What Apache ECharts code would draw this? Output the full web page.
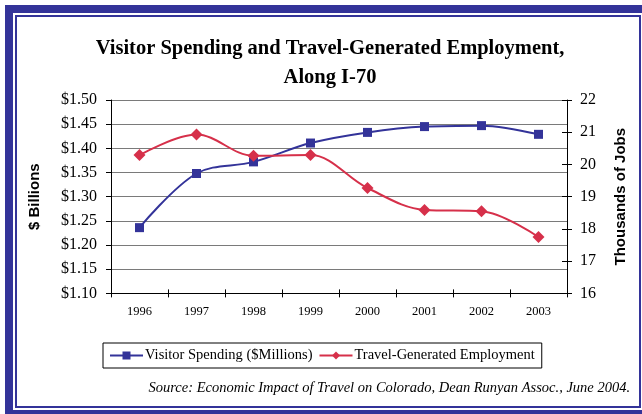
<!DOCTYPE html>
<html>
<head>
<meta charset="utf-8">
<script src="https://cdn.jsdelivr.net/npm/echarts@6/dist/echarts.min.js"></script>
<style>
html,body{margin:0;padding:0;background:#fff;}
#chart{width:642px;height:414px;}
</style>
</head>
<body>
<div id="chart"></div>
<script>
const years = ['1996','1997','1998','1999','2000','2001','2002','2003'];
const visitorSpending = [1.236, 1.348, 1.372, 1.411, 1.433, 1.445, 1.447, 1.429];
const travelJobs = [20.29, 20.93, 20.27, 20.29, 19.27, 18.59, 18.55, 17.75];
const spendingRange = [1.10, 1.50, 0.05];
const jobsRange = [16, 22, 1];
const seriesNames = ['Visitor Spending ($Millions)', 'Travel-Generated Employment'];
const titleLines = ['Visitor Spending and Travel-Generated Employment,', 'Along I-70'];
const sourceText = 'Source: Economic Impact of Travel on Colorado, Dean Runyan Assoc., June 2004.';

const SERIF = "'Liberation Serif', 'Times New Roman', serif";
const SANS = "'Liberation Sans', Arial, sans-serif";
const FRAME = '#333399';
const BLUE = '#333399';
const RED = '#D6304A';

const chart = echarts.init(document.getElementById('chart'), null, {renderer: 'canvas'});
chart.setOption({
  animation: false,
  backgroundColor: '#fff',
  title: {
    text: titleLines.join('\n'),
    left: 330,
    top: 34,
    padding: 0,
    textAlign: 'center',
    textStyle: {fontFamily: SERIF, fontWeight: 'bold', fontSize: 20.5, lineHeight: 29, color: '#000'}
  },
  grid: {left: 111, right: 75, top: 100, height: 193.4, containLabel: false},
  legend: {
    left: 103,
    top: 343,
    itemGap: 6,
    itemWidth: 33,
    itemHeight: 10,
    padding: [5, 7, 5, 6],
    borderColor: '#000',
    borderWidth: 1,
    borderRadius: 0,
    textStyle: {fontFamily: SERIF, fontSize: 14.5, color: '#000', padding: [0, 0, 0, -3]},
    data: seriesNames
  },
  xAxis: [{
    type: 'category',
    data: years,
    boundaryGap: true,
    axisLine: {lineStyle: {color: '#000', width: 1}},
    axisTick: {show: true, length: 4, lineStyle: {color: '#000'}},
    axisLabel: {fontFamily: SERIF, fontSize: 12.5, color: '#000', margin: 12}
  }, {
    type: 'category',
    data: years,
    position: 'bottom',
    boundaryGap: true,
    axisLine: {show: false},
    axisTick: {show: true, inside: true, length: 4, lineStyle: {color: '#000'}},
    axisLabel: {show: false}
  }],
  yAxis: [{
    type: 'value',
    min: spendingRange[0],
    max: spendingRange[1],
    interval: spendingRange[2],
    position: 'left',
    name: '$ Billions',
    nameLocation: 'middle',
    nameRotate: 90,
    nameGap: 69,
    nameTextStyle: {fontFamily: SANS, fontWeight: 'bold', fontSize: 15, color: '#000'},
    axisLine: {show: true, lineStyle: {color: '#000', width: 1}},
    axisTick: {show: true, length: 5, lineStyle: {color: '#000'}},
    axisLabel: {fontFamily: SERIF, fontSize: 16, color: '#000', margin: 14,
      formatter: v => '$' + v.toFixed(2)},
    splitLine: {show: true, lineStyle: {color: '#7a7a7a', width: 1.2}}
  }, {
    type: 'value',
    min: jobsRange[0],
    max: jobsRange[1],
    interval: jobsRange[2],
    position: 'right',
    name: 'Thousands of Jobs',
    nameLocation: 'middle',
    nameRotate: 90,
    nameGap: 46,
    nameTextStyle: {fontFamily: SANS, fontWeight: 'bold', fontSize: 15, color: '#000', padding: [0, 0, 0, 0]},
    axisLine: {show: true, lineStyle: {color: '#000', width: 1}},
    axisTick: {show: true, length: 5, lineStyle: {color: '#000'}},
    axisLabel: {fontFamily: SERIF, fontSize: 16, color: '#000', margin: 13},
    splitLine: {show: false}
  }, {
    type: 'value',
    min: jobsRange[0],
    max: jobsRange[1],
    interval: jobsRange[2],
    position: 'right',
    axisLine: {show: false},
    axisTick: {show: true, inside: true, length: 5, lineStyle: {color: '#000'}},
    axisLabel: {show: false},
    splitLine: {show: false}
  }],
  series: [{
    name: seriesNames[0],
    type: 'line',
    yAxisIndex: 0,
    data: visitorSpending,
    smooth: 0.35,
    symbol: 'rect',
    symbolSize: 9,
    lineStyle: {color: BLUE, width: 2},
    itemStyle: {color: BLUE},
    z: 3
  }, {
    name: seriesNames[1],
    type: 'line',
    yAxisIndex: 1,
    data: travelJobs,
    smooth: 0.35,
    symbol: 'diamond',
    symbolSize: 12,
    lineStyle: {color: RED, width: 2},
    itemStyle: {color: RED},
    z: 4
  }],
  graphic: [{
    type: 'rect',
    silent: true,
    shape: {x: 9, y: 9, width: 641, height: 405},
    style: {fill: null, stroke: FRAME, lineWidth: 8}
  }, {
    type: 'rect',
    silent: true,
    shape: {x: 16, y: 16, width: 624, height: 391},
    style: {fill: null, stroke: FRAME, lineWidth: 2}
  }, {
    type: 'text',
    silent: true,
    right: 12,
    top: 381,
    style: {text: sourceText, font: 'italic 14.5px ' + SERIF, fill: '#000', textAlign: 'right'}
  }]
});
</script>
</body>
</html>
